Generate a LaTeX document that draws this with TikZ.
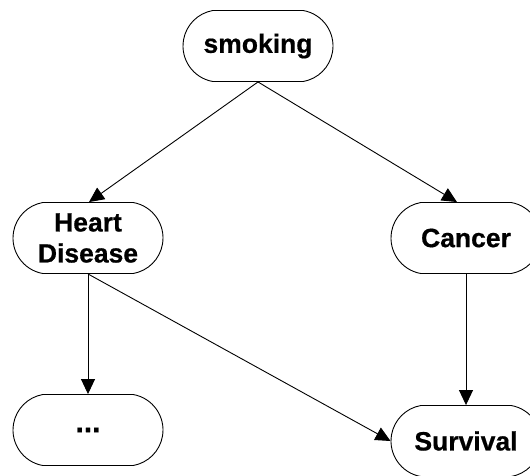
\documentclass[tikz,border=0pt]{standalone}
\usepackage{fontspec}
\setmainfont{Liberation Sans}[BoldFeatures={FakeBold=0.6}]
\usetikzlibrary{shapes.misc,arrows.meta}
\begin{document}
\begin{tikzpicture}[x=1pt,y=1pt,
  var/.style={rounded rectangle, rounded rectangle arc length=160, draw=black, line width=0.9pt,
    minimum width=150pt, minimum height=71pt, inner sep=0pt, align=center,
    font=\fontsize{26.5}{31}\selectfont\bfseries},
  link/.style={draw=black, line width=0.9pt, -{Triangle[length=15pt,width=14pt]}}]
\useasboundingbox (0,0) rectangle (530,-475);
\clip (0,0) rectangle (530,-475);
\fill[white] (0,0) rectangle (530,-475);

\node[var] (smk) at (258,-46) {smoking};
\node[var] (hd)  at (88,-238) {Heart\\Disease};
\node[var] (can) at (466,-238) {Cancer};
\node[var] (etc) at (88,-430) {\raisebox{-3pt}{\fontsize{30}{30}\selectfont...}};
\node[var] (srv) at (466,-441) {Survival};

\draw[link] (smk.south) -- ([xshift=1pt]hd.north);
\draw[link] (smk.south) -- ([xshift=-9pt]can.north);
\draw[link] (hd.south) -- (etc.north);
\draw[link] (hd.south) -- (srv.west);
\draw[link] (can.south) -- (srv.north);
\end{tikzpicture}
\end{document}
